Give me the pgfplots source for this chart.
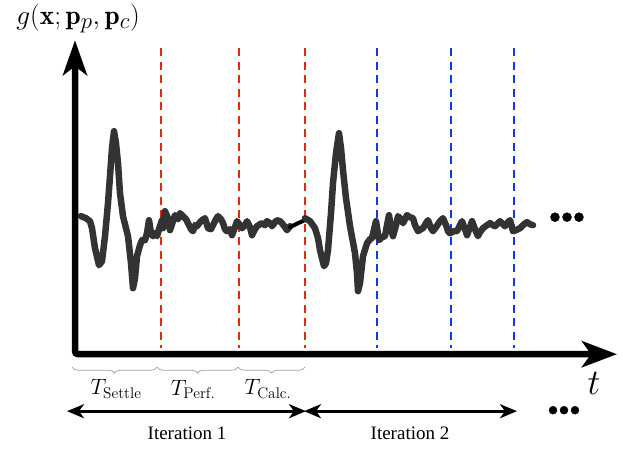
\documentclass[border=0pt]{standalone}
\usepackage{amsmath}
\usepackage{pgfplots}
\pgfplotsset{compat=1.18}
\usepackage{fontspec}
\newfontfamily\timesfont{Liberation Serif}
\usetikzlibrary{arrows.meta,decorations.pathreplacing}

\definecolor{sig}{RGB}{51,51,51}
\definecolor{redln}{RGB}{221,45,15}
\definecolor{blueln}{RGB}{16,60,221}

\begin{document}
\begin{tikzpicture}
\begin{axis}[scale only axis, width=623pt, height=446pt,
    xmin=0, xmax=623, ymin=0, ymax=446, y dir=reverse,
    hide axis, clip=false]
% frame for the bounding box
\addplot[draw=none, forget plot] coordinates {(0,0) (623,446)};

% phase markers
\addplot[redln, line width=2.5pt, dash pattern=on 8pt off 5.5pt] coordinates {(161,45) (161,345)};
\addplot[redln, line width=2.5pt, dash pattern=on 8pt off 5.5pt] coordinates {(239,45) (239,345)};
\addplot[redln, line width=2.5pt, dash pattern=on 8pt off 5.5pt] coordinates {(305,45) (305,345)};
\addplot[blueln, line width=2.5pt, dash pattern=on 8pt off 5.5pt] coordinates {(377,45) (377,345)};
\addplot[blueln, line width=2.5pt, dash pattern=on 8pt off 5.5pt] coordinates {(451,45) (451,345)};
\addplot[blueln, line width=2.5pt, dash pattern=on 8pt off 5.5pt] coordinates {(514,45) (514,345)};

% iteration 1 signal
\addplot[sig, line width=6.5pt, line join=round, line cap=round] coordinates {
(81,213)(86,215)(90,218)(92,225)(95,245)(99,262)(102,258)(105,233)(108,200)(110,173)
(112,145)(114,128)(116,140)(118,160)(120,190)(123,213)(128,233)(131,260)(133,285)(135,275)
(137,253)(140,242)(142,237)(145,237)(147,230)(149,217)(151,230)(153,233)(155,230)(157,233)
(159,226)(162,217)(163,225)(165,208)(168,215)(170,227)(173,218)(175,212)(178,216)(180,210)
(183,213)(186,216)(188,220)(191,226)(193,228)(195,222)(197,223)(200,219)(202,217)(205,215)
(208,225)(211,226)(213,222)(216,216)(218,213)(221,216)(223,220)(225,226)(227,228)(230,226)
(232,232)(235,224)(237,218)(240,222)(242,225)(245,222)(247,218)(250,224)(252,232)(255,226)
(257,223)(260,221)(262,220)(265,222)(267,218)(270,220)(272,223)(275,219)(277,217)(280,218)
(282,220)(285,224)(287,227)(290,223)};
% calculation gap
\addplot[black, line width=4pt, line cap=round] coordinates {(290,224)(298,220)(307,216)};
% iteration 2 signal
\addplot[sig, line width=6.5pt, line join=round, line cap=round] coordinates {
(305,215)(310,218)(315,225)(318,235)(320,247)(324,263)(326,260)(328,247)(331,210)(333,180)
(336,150)(339,130)(341,145)(343,167)(346,195)(350,223)(355,250)(357,270)(358,288)(360,280)
(363,253)(367,240)(370,236)(372,235)(376,218)(379,237)(382,234)(385,233)(387,222)(389,212)
(391,225)(393,233)(396,222)(398,213)(401,216)(403,220)(405,216)(407,212)(410,214)(413,215)
(415,222)(418,228)(421,226)(423,225)(426,220)(428,217)(431,225)(433,228)(436,224)(440,218)
(443,215)(446,222)(448,228)(450,230)(454,228)(457,228)(460,222)(462,218)(465,226)(467,232)
(470,224)(472,218)(475,226)(478,233)(480,229)(483,225)(487,222)(490,220)(493,222)(495,223)
(498,220)(500,218)(503,221)(505,223)(508,219)(510,217)(513,228)(516,227)(520,225)(524,221)
(527,219)(530,221)(533,222)};

% continuation dots
\addplot[only marks, mark=*, mark size=4.5pt, black] coordinates {(555,214)(567,214)(579,214)};
\addplot[only marks, mark=*, mark size=4pt, black] coordinates {(553,407)(564,407)(575,407)};

% axes
\addplot[black, line width=6.5pt, rounded corners=3pt,
  {Stealth[length=35pt,width=24pt,inset=9pt]}-{Stealth[length=35pt,width=26pt,inset=9pt]}]
  coordinates {(75,37)(75,351)(617,351)};

% iteration arrows
\addplot[black, line width=3pt, {Stealth[length=17pt,width=14pt,inset=5pt]}-{Stealth[length=17pt,width=14pt,inset=5pt]}]
  coordinates {(67,408)(306,408)};
\addplot[black, line width=3pt, {Stealth[length=17pt,width=14pt,inset=5pt]}-{Stealth[length=17pt,width=14pt,inset=5pt]}]
  coordinates {(304,408)(517,408)};

% braces
\draw[gray!75, line width=0.7pt, decorate, decoration={brace, mirror, amplitude=6pt}]
  (axis cs:72,364) -- (axis cs:157,364);
\draw[gray!75, line width=0.7pt, decorate, decoration={brace, mirror, amplitude=6pt}]
  (axis cs:157,364) -- (axis cs:238,364);
\draw[gray!75, line width=0.7pt, decorate, decoration={brace, mirror, amplitude=6pt}]
  (axis cs:238,364) -- (axis cs:305,364);

% labels
\node[scale=1.07] at (axis cs:116,386) {\huge $T_{\text{Settle}}$};
\node[scale=1.07] at (axis cs:193,386) {\huge $T_{\text{Perf.}}$};
\node[scale=1.07] at (axis cs:268,386) {\huge $T_{\text{Calc.}}$};
\node at (axis cs:187,430) {\timesfont\fontsize{19}{22}\selectfont Iteration 1};
\node at (axis cs:410,430) {\timesfont\fontsize{19}{22}\selectfont Iteration 2};
\node[scale=1.45] at (axis cs:594,380) {\Huge $t$};
\node[scale=1.1] at (axis cs:78,15) {\Huge $g(\mathbf{x};\mathbf{p}_p,\mathbf{p}_c)$};
\end{axis}
\end{tikzpicture}
\end{document}
